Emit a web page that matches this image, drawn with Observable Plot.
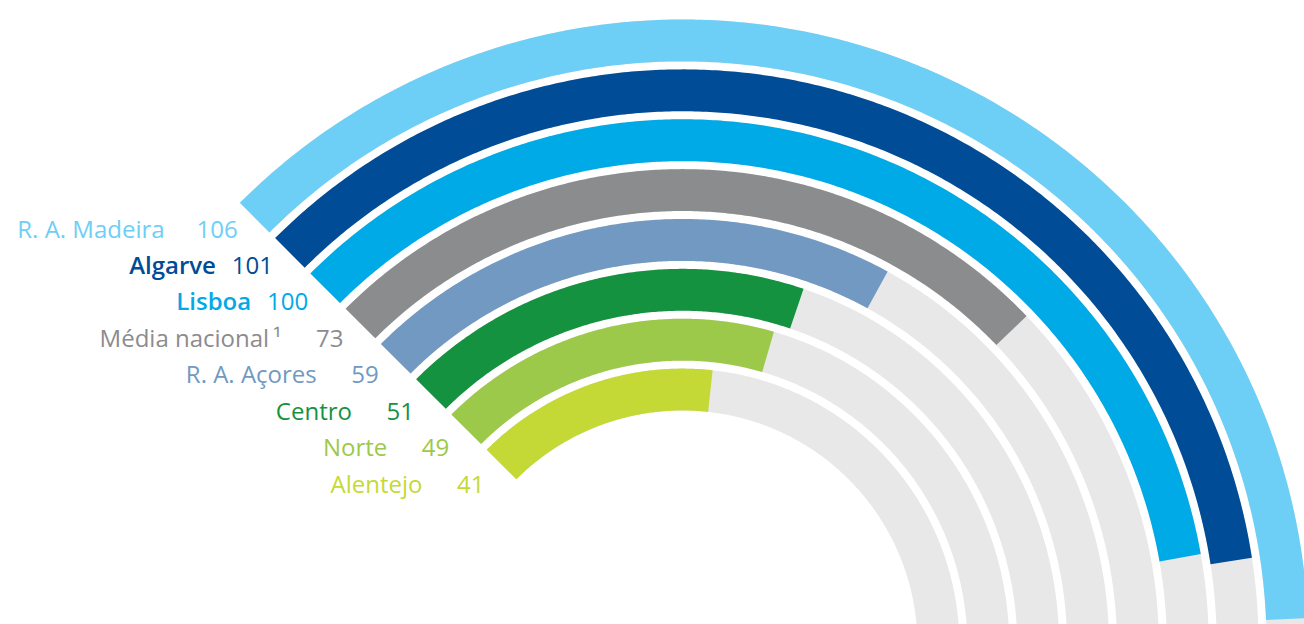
<!DOCTYPE html>
<html>
<head>
<meta charset="utf-8">
<script src="https://cdn.jsdelivr.net/npm/d3@7"></script>
<script src="https://cdn.jsdelivr.net/npm/@observablehq/plot@0.6"></script>
<style>
  html, body { margin: 0; padding: 0; background: #fff; }
  #chart { width: 1304px; height: 624px; overflow: hidden; }
  #chart svg { overflow: hidden; display: block; }
</style>
</head>
<body>
<div id="chart"></div>
<script>
// ---- data (outer ring first) ----
const regions = ["R. A. Madeira", "Algarve", "Lisboa", "Média nacional\u2009¹", "R. A. Açores", "Centro", "Norte", "Alentejo"];
const values = [106, 101, 100, 73, 59, 51, 49, 41];

// ---- styles ----
const ringColors = ["#6dcff6", "#004c97", "#00aae7", "#8b8c8e", "#7199c1", "#15923f", "#9dc94a", "#c4d936"];
const trackColor = "#e8e8e8";
const boldRows = new Set(["Algarve", "Lisboa"]);

// ---- layout ----
const W = 1304, H = 624;
const CX = 682, CY = 645;           // pixel position of the rings' centre
const R_INNER = 235, R_OUTER = 626;
const LABEL_STEP_Y = 1.033;         // vertical spread of the label column

const rows = regions.map((name, i) => ({name, value: values[i], color: ringColors[i]}));

// library scales: ring radius (band) and value -> angle (degrees, clockwise from top)
const radius = Plot.scale({x: {type: "band", domain: regions.slice().reverse(), range: [R_INNER, R_OUTER], paddingInner: 0.16, paddingOuter: 0, round: false}});
const angle = Plot.scale({x: {type: "linear", domain: [0, 144], range: [-45, 135]}});
const bw = radius.bandwidth;
const START = angle.apply(0), TRACK_END = angle.apply(144);

const rad = Math.PI / 180;
function arcPoints(key, fill, r0, r1, a0, a1) {
  const n = Math.max(2, Math.ceil(Math.abs(a1 - a0) / 0.4));
  const pts = [];
  for (let i = 0; i <= n; i++) {
    const a = (a0 + (a1 - a0) * i / n) * rad;
    pts.push({key, fill, x: r1 * Math.sin(a), y: r1 * Math.cos(a)});
  }
  for (let i = n; i >= 0; i--) {
    const a = (a0 + (a1 - a0) * i / n) * rad;
    pts.push({key, fill, x: r0 * Math.sin(a), y: r0 * Math.cos(a)});
  }
  return pts;
}

const trackPts = rows.flatMap(d => {
  const r0 = radius.apply(d.name);
  return arcPoints("t-" + d.name, trackColor, r0, r0 + bw, START, TRACK_END);
});
const barPts = rows.flatMap(d => {
  const r0 = radius.apply(d.name);
  return arcPoints("b-" + d.name, d.color, r0, r0 + bw, START, angle.apply(d.value));
});

// label anchor: start of each ring (angle of value 0), middle of the band
const midR = d => radius.apply(d.name) + bw / 2;
const lx = d => midR(d) * Math.sin(START * rad);
const ly = d => midR(d) * Math.cos(START * rad) * LABEL_STEP_Y;
const nameGap = d => String(d.value).length * 11 + (boldRows.has(d.name) ? 24 : 40);

const font = "'Open Sans', 'Noto Sans', sans-serif";
const textOpts = {textAnchor: "end", lineAnchor: "bottom", dx: -17, dy: 34, fill: "color", fontSize: 24};

const chart = Plot.plot({
  width: W,
  height: H,
  margin: 0,
  x: {domain: [-CX, W - CX], axis: null},
  y: {domain: [CY - H, CY], axis: null},
  style: {fontFamily: font, background: "#fff"},
  marks: [
    Plot.line(trackPts, {x: "x", y: "y", z: "key", fill: "fill", stroke: "none", curve: "linear", clip: true}),
    Plot.line(barPts, {x: "x", y: "y", z: "key", fill: "fill", stroke: "none", curve: "linear", clip: true}),
    Plot.text(rows, {...textOpts, x: lx, y: ly, text: d => String(d.value), fontWeight: 400}),
    Plot.text(rows.filter(d => !boldRows.has(d.name)), {...textOpts, x: d => lx(d) - nameGap(d), y: ly, text: "name", fontWeight: 400}),
    Plot.text(rows.filter(d => boldRows.has(d.name)), {...textOpts, x: d => lx(d) - nameGap(d), y: ly, text: "name", fontWeight: 600})
  ]
});
document.getElementById("chart").appendChild(chart);
</script>
</body>
</html>
